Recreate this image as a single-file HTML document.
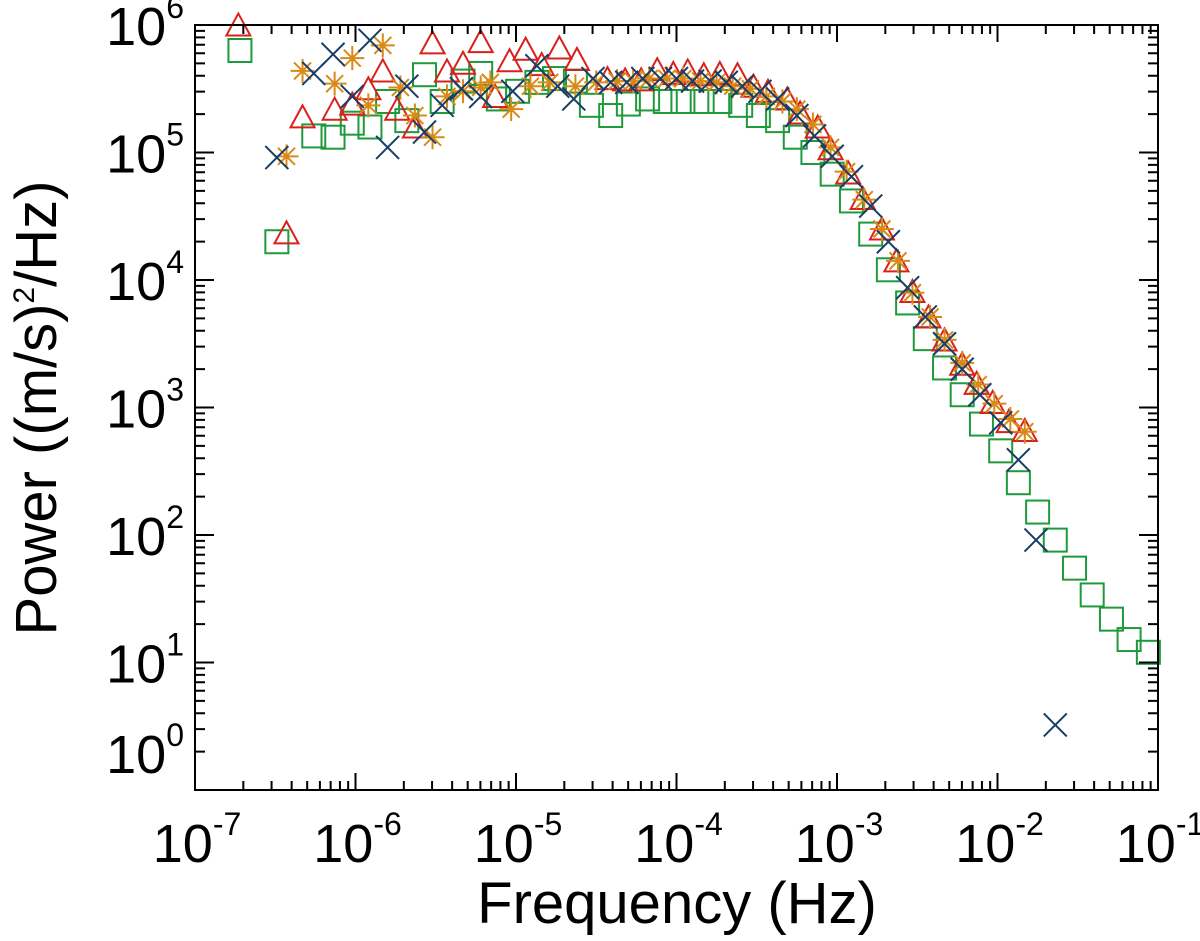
<!DOCTYPE html>
<html><head><meta charset="utf-8"><style>
html,body{margin:0;padding:0;background:#fff;}
svg{display:block;font-family:"Liberation Sans",Arial,sans-serif;}
</style></head><body>
<svg id="chart" width="1200" height="941" viewBox="0 0 1200 941" xmlns="http://www.w3.org/2000/svg">
<rect x="0" y="0" width="1200" height="941" fill="#fff"/>
<g id="marks"></g>
<g id="axes"></g>
</svg>
<script>
// Data stored as log10(frequency in Hz) and log10(power in (m/s)^2/Hz)
const greenLogF = [-6.72,-6.49,-6.26,-6.14,-6.02,-5.91,-5.80,-5.68,-5.57,-5.46,-5.33,-5.22,-5.11,-4.99,-4.87,-4.76,-4.63,-4.53,-4.41,-4.30,-4.18,-4.07,-3.96,-3.84,-3.73,-3.60,-3.49,-3.37,-3.26,-3.15,-3.03,-2.91,-2.79,-2.68,-2.56,-2.45,-2.33,-2.22,-2.10,-1.98,-1.87,-1.75,-1.64,-1.52,-1.41,-1.29,-1.18,-1.06];
const greenLogP = [5.80,4.30,5.13,5.12,5.23,5.20,5.40,5.25,5.61,5.40,5.56,5.62,5.42,5.48,5.55,5.58,5.56,5.37,5.29,5.38,5.42,5.40,5.40,5.40,5.40,5.37,5.29,5.25,5.12,5.00,4.83,4.62,4.36,4.08,3.82,3.54,3.31,3.10,2.87,2.66,2.41,2.18,1.96,1.74,1.53,1.34,1.18,1.08];
const redLogF = [-6.73,-6.43,-6.33,-6.13,-6.02,-5.92,-5.83,-5.74,-5.63,-5.52,-5.43,-5.33,-5.22,-5.13,-5.04,-4.94,-4.84,-4.73,-4.62,-4.43,-4.32,-4.22,-4.12,-4.02,-3.93,-3.83,-3.73,-3.62,-3.52,-3.43,-3.31,-3.23,-3.12,-3.04,-2.93,-2.84,-2.72,-2.63,-2.53,-2.43,-2.33,-2.22,-2.13,-2.03,-1.93,-1.83];
const redLogP = [5.98,4.35,5.26,5.32,5.36,5.48,5.62,5.32,5.18,5.84,5.62,5.68,5.85,5.42,5.70,5.79,5.67,5.80,5.71,5.56,5.55,5.55,5.63,5.60,5.62,5.59,5.60,5.59,5.50,5.46,5.40,5.29,5.18,5.01,4.82,4.62,4.38,4.13,3.89,3.69,3.51,3.32,3.17,3.02,2.87,2.80];
const orangeLogF = [-6.43,-6.33,-6.13,-6.02,-5.92,-5.83,-5.72,-5.63,-5.52,-5.43,-5.33,-5.22,-5.16,-5.03,-4.91,-4.79,-4.63,-4.50,-4.37,-4.27,-4.17,-4.06,-3.96,-3.85,-3.75,-3.65,-3.54,-3.44,-3.34,-3.25,-3.15,-3.04,-2.94,-2.83,-2.72,-2.62,-2.53,-2.42,-2.33,-2.22,-2.12,-2.02,-1.92,-1.83];
const orangeLogP = [4.97,5.64,5.54,5.74,5.37,5.84,5.51,5.29,5.12,5.44,5.48,5.51,5.55,5.34,5.52,5.55,5.52,5.55,5.56,5.56,5.58,5.58,5.58,5.56,5.55,5.52,5.50,5.44,5.40,5.34,5.22,5.04,4.85,4.63,4.40,4.15,3.90,3.71,3.53,3.35,3.18,3.03,2.91,2.81];
const blueLogF = [-6.49,-6.26,-6.14,-6.02,-5.91,-5.80,-5.68,-5.57,-5.46,-5.34,-5.22,-5.02,-4.87,-4.74,-4.64,-4.52,-4.41,-4.31,-4.21,-4.10,-4.00,-3.90,-3.79,-3.69,-3.59,-3.48,-3.37,-3.25,-3.14,-3.03,-2.91,-2.79,-2.68,-2.56,-2.45,-2.33,-2.22,-2.11,-1.98,-1.87,-1.76,-1.64];
const blueLogP = [4.96,5.62,5.77,5.44,5.88,5.04,5.52,5.16,5.37,5.50,5.44,5.48,5.68,5.52,5.42,5.58,5.55,5.55,5.58,5.58,5.58,5.56,5.56,5.55,5.52,5.48,5.42,5.29,5.13,4.97,4.81,4.58,4.30,3.94,3.71,3.50,3.30,3.10,2.88,2.59,1.96,0.51];
const xTickExps = [-7,-6,-5,-4,-3,-2,-1];
const yTickExps = [0,1,2,3,4,5,6];

const L=195,R=1158,T=25,B=790;
const xMin=-7,xMax=-1,yMin=0,yMax=6;
function sx(lf){return L+(lf-xMin)/(xMax-xMin)*(R-L);}
function sy(lp){return B-(lp-yMin)/(yMax-yMin)*(B-T);}
const NS="http://www.w3.org/2000/svg";
function mk(tag,attrs,parent){const e=document.createElementNS(NS,tag);for(const k in attrs)e.setAttribute(k,attrs[k]);parent.appendChild(e);return e;}
const marks=document.getElementById('marks');
const axes=document.getElementById('axes');

const cGreen="#1e9a3c",cRed="#d8211c",cOrange="#d98a16",cBlue="#173e66";
const gG=mk('g',{},marks);


greenLogF.forEach((f,i)=>{const x=sx(f),y=sy(greenLogP[i]);
 const e=mk('rect',{x:x-11.5,y:y-11.5,width:23,height:23,fill:'none',stroke:cGreen,'stroke-width':2},gG);
 
 });
const gR=mk('g',{},marks);


redLogF.forEach((f,i)=>{const x=sx(f),y=sy(redLogP[i]);
 const e=mk('polygon',{points:`${x-12},${y+8} ${x+12},${y+8} ${x},${y-14}`,fill:'none',stroke:cRed,'stroke-width':2},gR);
 
 });
const gO=mk('g',{},marks);


orangeLogF.forEach((f,i)=>{const x=sx(f),y=sy(orangeLogP[i]);const r=12,d=8.5;
 const e=mk('path',{d:`M${x-r},${y}H${x+r}M${x},${y-r}V${y+r}M${x-d},${y-d}L${x+d},${y+d}M${x-d},${y+d}L${x+d},${y-d}`,fill:'none',stroke:cOrange,'stroke-width':2},gO);
 
 });
const gB=mk('g',{},marks);


blueLogF.forEach((f,i)=>{const x=sx(f),y=sy(blueLogP[i]);const d=11.5;
 const e=mk('path',{d:`M${x-d},${y-d}L${x+d},${y+d}M${x-d},${y+d}L${x+d},${y-d}`,fill:'none',stroke:cBlue,'stroke-width':2},gB);
 
 });

// frame
const fr=mk('rect',{x:L,y:T,width:R-L,height:B-T,fill:'none',stroke:'#000','stroke-width':2},axes);


let tp='';
for(let d=xMin;d<=xMax;d++){const x=sx(d);
 tp+=`M${x},${B}V${B-17}M${x},${T}V${T+17}`;
 if(d<xMax)for(let m=2;m<=9;m++){const xm=sx(d+Math.log10(m));tp+=`M${xm},${B}V${B-9}M${xm},${T}V${T+9}`;}}
for(let d=yMin;d<=yMax;d++){const y=sy(d);
 tp+=`M${L},${y}H${L+19}M${R},${y}H${R-19}`;
 if(d<yMax)for(let m=2;m<=9;m++){const ym=sy(d+Math.log10(m));tp+=`M${L},${ym}H${L+10}M${R},${ym}H${R-10}`;}}
const tk=mk('path',{d:tp,stroke:'#000','stroke-width':2,fill:'none'},axes);



xTickExps.forEach(e=>{const x=sx(e);
 const t=mk('text',{x:x+2,y:862,'text-anchor':'middle','font-size':54},axes);
 
 
 const a=mk('tspan',{},t);a.textContent='10';
 const b=mk('tspan',{dy:-27,'font-size':32},t);b.textContent=String(e);});
yTickExps.forEach(e=>{let y=sy(e)+20;if(e===0)y=773;
 const t=mk('text',{x:184,y:y,'text-anchor':'end','font-size':54},axes);
 
 
 const a=mk('tspan',{},t);a.textContent='10';
 const b=mk('tspan',{dy:-27,'font-size':32},t);b.textContent=String(e);});
const xt=mk('text',{x:677,y:923,'text-anchor':'middle','font-size':58},axes);
xt.textContent='Frequency (Hz)';


const yt=mk('text',{x:0,y:0,'text-anchor':'middle','font-size':58,transform:'translate(56,408) rotate(-90)'},axes);


const y1=mk('tspan',{},yt);y1.textContent='Power ((m/s)';
const y2=mk('tspan',{dy:-22,'font-size':30},yt);y2.textContent='2';
const y3=mk('tspan',{dy:22},yt);y3.textContent='/Hz)';
</script>
</body></html>
